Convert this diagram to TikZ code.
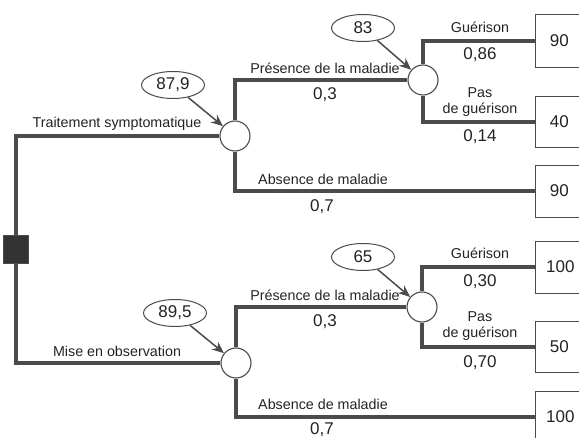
\documentclass[tikz,border=0pt]{standalone}
\usepackage{fontspec}
\setmainfont{Liberation Sans}
\definecolor{treegray}{RGB}{75,75,75}
\definecolor{textgray}{RGB}{35,35,35}
\usetikzlibrary{arrows.meta,positioning,shapes.geometric}

\begin{document}
\begin{tikzpicture}[
  x=1pt,y=-1pt,
  every node/.style={text=textgray,font=\fontsize{14.3}{16}\selectfont},
  branch/.style={line width=3.2pt,treegray},
  chance/.style={circle,draw=treegray,line width=1.1pt,fill=white,minimum size=30pt,inner sep=0pt},
  payoff/.style={draw=treegray,line width=0.8pt,fill=white,minimum width=50pt,inner sep=0pt,
                 font=\fontsize{17}{19}\selectfont,anchor=west},
  valbubble/.style={ellipse,draw=treegray,line width=1pt,fill=white,minimum width=63pt,
                    minimum height=27pt,inner sep=0pt,font=\fontsize{17}{19}\selectfont},
  prob/.style={font=\fontsize{17}{19}\selectfont},
  pointer/.style={-{Stealth[length=12pt,width=10pt]},line width=1.5pt,treegray},
]
  \useasboundingbox (0,0) rectangle (579,438);
  \clip (0,0) rectangle (579,438);

  % Decision node
  \node[draw=treegray,fill=black!80,minimum width=25pt,minimum height=28pt,inner sep=0pt] (dec) at (16,249) {};

  % Chance nodes
  \node[chance] (c1) at (235,136) {};
  \node[chance] (c11) at (423,80) {};
  \node[chance] (c2) at (236,363) {};
  \node[chance] (c21) at (422,307) {};

  % Payoffs
  \node[payoff,minimum height=53pt] (b11) at (535,41) {\hspace*{-2pt}90};
  \node[payoff,minimum height=51pt] (b12) at (535,122) {\hspace*{-2pt}40};
  \node[payoff,minimum height=52pt] (b13) at (535,191) {\hspace*{-2pt}90};
  \node[payoff,minimum height=52pt] (b21) at (535,267) {100};
  \node[payoff,minimum height=51pt] (b22) at (535,347) {\hspace*{-2pt}50};
  \node[payoff,minimum height=52pt] (b23) at (535,417) {100};

  % Branches
  \draw[branch] (dec.north) |- (c1.west);
  \draw[branch] (dec.south) |- (c2.west);
  \draw[branch] (c1.north) |- (c11.west);
  \draw[branch] (c1.south) |- (b13.west);
  \draw[branch] (c11.north) |- (b11.west);
  \draw[branch] (c11.south) |- (b12.west);
  \draw[branch] (c2.north) |- (c21.west);
  \draw[branch] (c2.south) |- (b23.west);
  \draw[branch] (c21.north) |- (b21.west);
  \draw[branch] (c21.south) |- (b22.west);

  % Expected values
  \node[valbubble] (e1) at (173,85) {87,9};
  \node[valbubble] (e11) at (363,28) {83};
  \node[valbubble] (e2) at (175,313) {89,5};
  \node[valbubble] (e21) at (363,257) {65};
  \draw[pointer] (e1) -- (c1);
  \draw[pointer] (e11) -- (c11);
  \draw[pointer] (e2) -- (c2);
  \draw[pointer] (e21) -- (c21);

  % Labels, upper tree
  \node (l1) at (117,124) {Traitement symptomatique};
  \node (l11) at (325,68) {Présence de la maladie};
  \node[prob] (p11) at (325,95) {0,3};
  \node (l13) at (323,179) {Absence de maladie};
  \node[prob] (p13) at (322,207) {0,7};
  \node (l111) at (480,27) {Guérison};
  \node[prob] (p111) at (480,55) {0,86};
  \node[align=center] (l112) at (480,102) {Pas\\de guérison};
  \node[prob] (p112) at (480,137) {0,14};

  % Labels, lower tree
  \node (l2) at (117,351) {Mise en observation};
  \node (l21) at (325,295) {Présence de la maladie};
  \node[prob] (p21) at (325,322) {0,3};
  \node (l23) at (323,404) {Absence de maladie};
  \node[prob] (p23) at (322,430) {0,7};
  \node (l211) at (480,253) {Guérison};
  \node[prob] (p211) at (480,282) {0,30};
  \node[align=center] (l212) at (480,326) {Pas\\de guérison};
  \node[prob] (p212) at (480,363) {0,70};
\end{tikzpicture}
\end{document}
